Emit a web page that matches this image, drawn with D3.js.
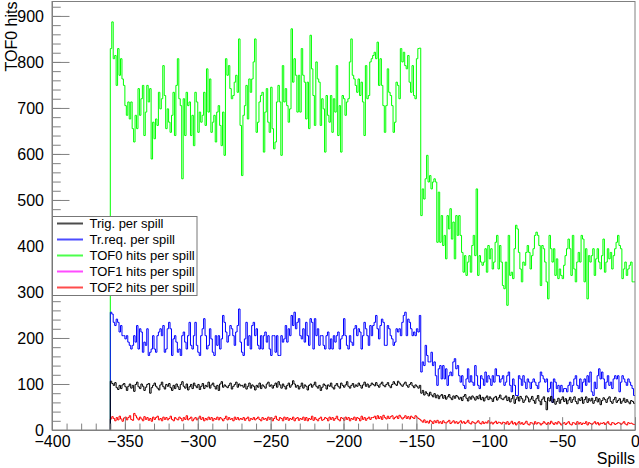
<!DOCTYPE html>
<html>
<head>
<meta charset="utf-8">
<script src="https://cdn.jsdelivr.net/npm/d3@7"></script>
<style>
  body { margin: 0; background: #fff; }
  svg { display: block; font-family: "Liberation Sans", Arial, sans-serif; }
</style>
</head>
<body>
<div id="chart"></div>
<script>
// one bin per spill, first bin at -360
const firstSpill = -360;

const tof0 = [
  829,887,807,814,749,829,771,807,763,749, 705,684,713,676,713,655,626,684,655,742,
  684,720,749,640,691,749,713,742,589,669, 633,676,662,734,698,720,792,727,655,698,
  669,647,684,734,640,749,807,720,705,546, 720,640,734,705,713,640,684,618,734,713,
  647,691,669,684,734,662,785,691,763,647, 669,684,626,691,705,662,618,691,597,807,
  771,792,742,720,727,756,771,734,850,662,
  553,684,705,749,676,763,734,763,800,850, 647,669,713,727,734,604,691,742,669,647,
  745,655,611,626,713,749,713,597,792,713, 742,705,669,698,872,756,807,771,691,771,
  691,829,771,756,676,756,655,858,785,727, 662,800,763,756,662,720,698,604,727,684,
  669,727,647,720,691,792,640,705,604,727, 720,684,713,720,800,850,771,763,749,734,
  763,727,756,713,640,792,720,727,800,807,
  814,821,807,843,749,807,749,705,647,705, 785,734,727,705,647,669,756,749,720,829,
  800,821,792,785,814,756,734,792,727,720, 807,829,830,466,524,502,546,597,539,553,
  524,539,546,539,408,517,408,466,401,423, 372,466,437,481,415,452,372,466,423,466,
  423,386,343,379,336,365,379,343,401,423, 379,524,336,379,365,358,365,394,343,401,
  372,394,350,365,408,423,350,401,365,314,
  307,365,271,423,336,343,329,394,445,437, 386,350,322,365,358,386,401,386,350,379,
  394,423,430,423,401,314,401,394,365,322, 285,423,394,365,394,336,372,329,350,336,
  329,358,379,394,415,394,336,423,350,322, 365,386,365,423,415,322,394,285,379,365,
  379,394,336,372,394,365,350,379,415,343, 365,394,372,386,350,379,394,408,423,401,
  394,329,350,365,336,350,358,365,322,322
];

const trReq = [
  256,252,234,227,241,234,213,227,205,205, 198,205,191,184,176,184,205,191,227,176,
  220,213,169,191,184,220,162,169,176,205, 176,169,205,213,220,205,227,169,176,220,
  234,220,162,198,205,191,169,176,162,205, 213,191,176,205,234,184,176,205,234,184,
  169,162,205,220,242,205,176,184,220,198, 169,162,205,184,205,176,198,249,234,213,
  191,205,227,220,205,184,213,227,263,191,
  169,162,198,234,184,205,176,227,234,205, 220,184,176,205,176,205,213,191,205,176,
  162,205,205,169,205,162,162,205,191,198, 227,191,220,205,249,227,256,220,234,242,
  205,198,220,191,234,205,184,242,234,176, 242,205,220,184,205,205,184,176,205,213,
  176,198,176,205,191,205,213,176,198,205, 242,205,184,176,205,191,184,220,227,205,
  220,213,176,205,234,220,205,184,227,205,
  227,234,249,220,198,227,241,234,184,184, 227,220,205,198,184,191,220,213,220,205,
  234,249,256,205,241,234,220,205,213,205, 220,213,249,126,148,140,184,162,148,148,
  169,140,148,118,97,133,140,111,140,111, 133,97,118,126,118,148,155,133,140,118,
  104,118,97,90,111,133,104,118,104,97, 140,118,97,90,118,111,97,126,104,118,
  111,97,118,104,133,118,118,104,111,118,
  97,104,118,126,97,83,111,97,75,75, 118,111,97,118,104,90,111,104,90,104,
  111,104,97,90,104,126,118,111,104,111, 83,90,104,60,111,104,90,97,83,97,
  83,90,90,83,97,104,83,97,111,118, 97,90,111,83,104,111,97,118,104,126,
  83,75,104,90,118,133,111,126,111,90, 104,118,97,104,90,111,118,111,118,83,
  104,118,111,104,97,111,104,97,90,75
];

const trig = [
  106,101,97,103,92,88,97,90,98,101, 94,86,95,100,91,97,84,99,104,94,
  90,100,95,86,93,99,101,80,92,97, 102,95,91,87,98,104,94,89,99,95,
  101,92,86,97,90,100,94,88,99,105, 95,91,100,87,94,99,90,102,96,92,
  99,88,95,101,90,97,94,104,91,98, 102,95,89,97,86,100,105,93,98,95,
  92,97,102,89,95,99,104,93,100,96,
  97,93,100,89,95,102,91,98,95,87, 97,93,102,90,98,95,91,100,104,95,
  98,91,97,102,93,105,98,91,100,95, 89,97,102,93,98,107,100,93,97,89,
  95,102,91,98,95,87,97,100,93,98, 104,95,91,97,86,93,100,97,89,98,
  95,102,93,89,97,101,95,91,102,97, 93,98,105,95,91,97,101,93,98,95,
  102,97,91,98,104,95,100,93,97,102,
  99,96,103,97,93,100,104,97,94,99, 103,96,92,99,105,100,97,106,102,98,
  95,100,104,97,93,99,103,96,92,98, 95,91,97,80,86,76,83,79,74,82,
  76,72,79,70,76,68,74,77,69,75, 67,72,77,70,66,74,69,75,72,67,
  71,64,73,77,69,63,72,67,74,70, 65,73,68,76,66,71,63,70,74,66,
  72,68,62,70,73,65,70,76,68,66,
  70,74,64,71,61,68,75,58,67,72, 63,73,68,60,65,74,70,61,67,73,
  64,58,68,75,63,55,67,72,62,44, 70,63,73,60,67,56,62,69,58,66,
  72,62,68,57,65,71,60,66,72,62, 57,68,64,71,58,66,72,60,68,63,
  69,58,64,71,61,68,55,64,70,66, 60,68,72,62,58,66,71,60,64,68,
  58,63,69,60,66,61,57,64,62,58
];

// no TOF1 hits were recorded
const tof1 = [];

const tof2 = [
  24,29,25,20,27,22,30,24,19,26, 28,22,27,31,23,21,36,31,26,22,
  28,24,20,29,23,27,21,25,19,28, 23,27,30,22,25,20,28,23,27,22,
  25,30,23,20,27,24,22,28,25,20, 27,23,31,22,25,28,20,24,27,22,
  25,30,23,27,20,25,22,28,23,27, 20,25,23,28,22,27,24,20,25,30,
  22,27,23,25,20,28,23,27,22,25,
  23,27,21,25,28,20,25,23,27,22, 25,28,23,20,27,23,25,21,28,23,
  27,20,25,30,23,21,27,25,20,28, 23,27,21,25,23,28,20,25,27,21,
  25,23,28,21,27,20,25,23,30,21, 27,23,20,25,28,21,23,27,25,20,
  28,23,27,21,25,30,23,20,27,25, 21,28,23,27,20,25,23,28,21,27,
  25,20,30,23,27,21,25,28,23,27,
  27,30,24,31,25,29,23,32,27,24, 30,25,29,31,24,27,30,25,32,28,
  24,27,31,25,29,24,30,27,25,31, 28,25,23,20,17,22,16,19,15,21,
  18,14,20,16,21,15,18,14,20,16, 15,18,21,14,17,20,15,18,14,17,
  20,15,18,14,17,21,15,13,18,16, 14,17,20,15,13,18,14,17,15,20,
  14,17,13,16,19,14,17,16,13,17,
  16,13,18,12,15,19,13,16,11,15, 18,13,16,12,15,19,13,11,16,15,
  12,18,13,16,15,11,14,18,15,12, 16,13,19,15,12,16,13,18,15,11,
  14,16,12,15,18,13,11,16,15,12, 18,13,16,12,15,14,18,11,16,14,
  12,15,18,13,16,11,15,14,16,12, 15,18,13,11,16,15,12,14,16,15,
  12,15,18,13,11,16,14,15,13,12
];

const legendLabels = ["Trig. per spill", "Tr.req. per spill", "TOF0 hits per spill", "TOF1 hits per spill", "TOF2 hits per spill"];
const legendColors = ["#000000", "#0000ff", "#00ff00", "#ff00ff", "#ff0000"];
const xTicks = [-400, -350, -300, -250, -200, -150, -100, -50, 0];
const yTicks = [0, 100, 200, 300, 400, 500, 600, 700, 800, 900];

const width = 639, height = 468;
const margin = { left: 52, right: 4, top: 1.5, bottom: 38 };
const axisColor = "#808080";

const svg = d3.select("#chart").append("svg")
    .attr("width", width)
    .attr("height", height);

svg.append("rect").attr("width", width).attr("height", height).attr("fill", "#fff");

const x = d3.scaleLinear()
    .domain([-400, 0])
    .range([margin.left, width - margin.right]);

const y = d3.scaleLinear()
    .domain([0, d3.max(tof0) * 1.05])
    .range([height - margin.bottom, margin.top]);

const fmt = d => d < 0 ? "\u2212" + Math.abs(d) : String(d);

// histograms, drawn back to front
const step = d3.line()
    .x(d => x(d[0]))
    .y(d => y(d[1]))
    .curve(d3.curveStepAfter);

function histPoints(values) {
    const pts = [[firstSpill, 0]];
    values.forEach((v, i) => pts.push([firstSpill + i, v]));
    if (values.length) pts.push([firstSpill + values.length, values[values.length - 1]]);
    return pts;
}

const series = [
    { values: tof2, color: legendColors[4] },
    { values: tof1, color: legendColors[3] },
    { values: tof0, color: legendColors[2] },
    { values: trReq, color: legendColors[1] },
    { values: trig, color: legendColors[0] }
];

series.filter(s => s.values.length).forEach(s => {
    svg.append("path")
        .attr("d", step(histPoints(s.values)))
        .style("fill", "none")
        .style("stroke", s.color)
        .style("stroke-width", 1);
});

// axes, ticks pointing into the frame
const plotH = y.range()[0] - y.range()[1];
const plotW = x.range()[1] - x.range()[0];

svg.append("g")
    .attr("class", "axis")
    .attr("transform", `translate(0,${y(0)})`)
    .call(d3.axisBottom(x).tickValues(xTicks).tickFormat(fmt)
        .tickSize(-plotH * 0.03).tickSizeOuter(0).tickPadding(6));

svg.append("g")
    .attr("class", "axis")
    .attr("transform", `translate(0,${y(0)})`)
    .call(d3.axisBottom(x).tickValues(d3.range(-400, 1, 10)).tickFormat("")
        .tickSize(-plotH * 0.015).tickSizeOuter(0))
    .select(".domain").remove();

svg.append("g")
    .attr("class", "axis")
    .attr("transform", `translate(${x(-400)},0)`)
    .call(d3.axisLeft(y).tickValues(yTicks).tickFormat(fmt)
        .tickSize(-plotW * 0.03).tickSizeOuter(0).tickPadding(8));

svg.append("g")
    .attr("class", "axis")
    .attr("transform", `translate(${x(-400)},0)`)
    .call(d3.axisLeft(y).tickValues(d3.range(0, y.domain()[1], 20)).tickFormat("")
        .tickSize(-plotW * 0.015).tickSizeOuter(0))
    .select(".domain").remove();

svg.selectAll(".axis .tick line").attr("stroke", axisColor);
svg.selectAll(".axis .domain").attr("stroke", axisColor);
svg.selectAll(".axis .tick text")
    .attr("fill", "#000")
    .style("font-size", "16px")
    .style("font-family", "'Liberation Sans', Arial, sans-serif");

// frame
svg.append("rect")
    .attr("x", x(-400))
    .attr("y", y.range()[1])
    .attr("width", plotW)
    .attr("height", plotH)
    .attr("fill", "none")
    .attr("stroke", axisColor);

// axis titles
svg.append("text")
    .attr("x", x(0))
    .attr("y", 464)
    .attr("text-anchor", "end")
    .style("font-size", "16px")
    .text("Spills");

svg.append("text")
    .attr("transform", `translate(17,${y.range()[1]}) rotate(-90)`)
    .attr("text-anchor", "end")
    .style("font-size", "16px")
    .text("TOF0 hits");

// legend
const legend = svg.append("g").attr("transform", "translate(52.5,216.5)");

legend.append("rect")
    .attr("width", 144.5)
    .attr("height", 79)
    .style("fill", "#fff")
    .style("stroke", "#777");

const entries = legend.selectAll(".entry")
    .data(legendLabels.map((label, i) => ({ label, color: legendColors[i], row: i })))
    .join("g")
    .attr("class", "entry")
    .attr("transform", d => `translate(0,${7 + d.row * 16})`);

entries.append("rect")
    .attr("x", 4.5)
    .attr("y", -1)
    .attr("width", 26)
    .attr("height", 2)
    .attr("fill", d => d.color)
    .attr("fill-opacity", 0.7);

entries.append("text")
    .attr("x", 37)
    .attr("dy", "0.35em")
    .style("font-size", "13px")
    .style("fill", "#000")
    .text(d => d.label);
</script>
</body>
</html>
